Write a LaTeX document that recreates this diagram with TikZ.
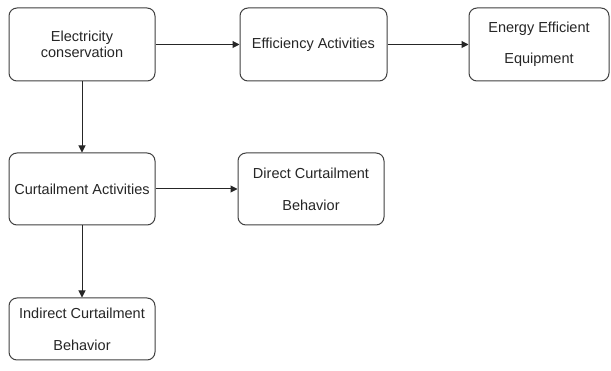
\documentclass[tikz,border=0pt]{standalone}
\usepackage{fontspec}
\setmainfont{Liberation Sans}
\usetikzlibrary{arrows.meta}
\begin{document}
\begin{tikzpicture}[x=1pt,y=-1pt,
  box/.style={draw=black!75,line width=1pt,rounded corners=8pt,fill=white,
    align=center,inner sep=0pt,font=\fontsize{14.5}{16}\selectfont,text=black!85},
  conn/.style={draw=black!85,line width=1pt,-{Triangle[length=7pt,width=7pt]}}]
\useasboundingbox (0,0) rectangle (611,371);
\node[box,minimum width=146pt,minimum height=73pt] (a) at (82,44.5) {Electricity\\conservation};
\node[box,minimum width=147pt,minimum height=73pt] (b) at (313.5,44.5) {Efficiency Activities};
\node[box,minimum width=140pt,minimum height=73pt] (c) at (539,44.5) {Energy Efficient\\[15pt]Equipment};
\node[box,minimum width=146pt,minimum height=72pt] (d) at (82,189) {Curtailment Activities};
\node[box,minimum width=146pt,minimum height=72pt] (e) at (311,189) {Direct Curtailment\\[16pt]Behavior};
\node[box,minimum width=146pt,minimum height=62pt] (f) at (82,329) {Indirect Curtailment\\[16pt]Behavior};
\draw[conn] (a.east) -- (b.west);
\draw[conn] (b.east) -- (c.west);
\draw[conn] (a.south) -- (d.north);
\draw[conn] (d.east) -- (e.west);
\draw[conn] (d.south) -- (f.north);
\end{tikzpicture}
\end{document}
